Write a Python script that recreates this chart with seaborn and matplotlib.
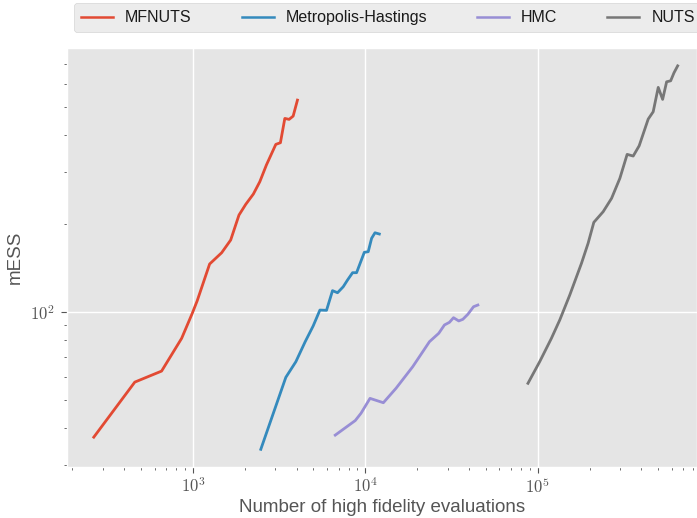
import numpy as np
import pandas as pd
import matplotlib
matplotlib.use("Agg")
import matplotlib.pyplot as plt
import matplotlib.ticker as mticker
import seaborn as sns

# ---- data ----
mfnuts_x = [266, 460, 658, 860, 991, 1059, 1250, 1468, 1656, 1850, 2025, 2242, 2443,
            2668, 3026, 3218, 3413, 3614, 3815, 4040]
mfnuts_y = [37.3, 57.5, 62.7, 81.1, 98.7, 109, 145.5, 159, 175.7, 213.8, 232.6, 252.2,
            277.8, 316.8, 372.7, 377.5, 457, 453.6, 465.5, 527.8]

mh_x = [2476, 3459, 3955, 4480, 4984, 5454, 5957, 6454, 6901, 7448, 7887, 8439, 8899,
        9868, 10400, 10880, 11380, 12060]
mh_y = [33.9, 59.7, 67.5, 79.0, 89.4, 101.3, 101.1, 118.0, 116.1, 121.7, 128.3, 135.9,
        135.9, 159.5, 160.3, 178.1, 186.0, 184.2]

hmc_x = [6692, 8745, 9441, 10650, 12730, 15085, 18840, 21540, 23560, 26680, 28780,
         30770, 32490, 34850, 36800, 39350, 42450, 44980]
hmc_y = [37.9, 42.5, 45.0, 50.6, 48.9, 54.8, 64.9, 73.0, 79.0, 84.4, 90.1, 92.0, 95.4,
         93.0, 94.2, 98.0, 104.0, 105.4]

nuts_x = [87830, 102700, 120100, 134300, 153500, 179500, 196100, 211700, 239800, 268300,
          299700, 330400, 358200, 388000, 437700, 467900, 500500, 530800, 559800, 590900,
          617700, 648900]
nuts_y = [56.96, 67.5, 81.1, 93.7, 114.0, 146.3, 171.2, 201.9, 219.5, 243.8, 285.3,
          344.5, 340.0, 368.6, 454.6, 481.6, 583.3, 530.8, 609.5, 614.3, 654.2, 690.9]

methods = ["MFNUTS", "Metropolis-Hastings", "HMC", "NUTS"]
colors = ["#E24A33", "#348ABD", "#988ED5", "#777777"]

frames = []
for name, xs, ys in zip(methods, [mfnuts_x, mh_x, hmc_x, nuts_x],
                        [mfnuts_y, mh_y, hmc_y, nuts_y]):
    frames.append(pd.DataFrame({"evals": xs, "mESS": ys, "method": name}))
df = pd.concat(frames, ignore_index=True)

# ---- style ----
plt.style.use("ggplot")
plt.rcParams["font.family"] = ["Liberation Sans", "DejaVu Sans"]
plt.rcParams["mathtext.fontset"] = "cm"

fig = plt.figure(figsize=(6.97, 5.18), dpi=100)
ax = fig.add_axes([67 / 697, 51 / 518, 630 / 697, 419 / 518])

sns.lineplot(data=df, x="evals", y="mESS", hue="method", hue_order=methods,
             palette=colors, ax=ax, linewidth=2.0, estimator=None, sort=False,
             legend=False)

ax.set_xscale("log")
ax.set_yscale("log")
ax.set_xlim(186, 8.4e5)
ax.set_ylim(29.5, 795)
ax.grid(True, which="major", color="white", linewidth=1.0)
ax.grid(False, which="minor")

sci = mticker.FuncFormatter(lambda v, p: r"$10^{%d}$" % int(round(np.log10(v))))
ax.xaxis.set_major_formatter(sci)
ax.yaxis.set_major_formatter(sci)
ax.xaxis.set_minor_formatter(mticker.NullFormatter())
ax.yaxis.set_minor_formatter(mticker.NullFormatter())

ax.set_xlabel("Number of high fidelity evaluations", fontsize=13.5, color="#555555",
              labelpad=2)
ax.set_ylabel("mESS", fontsize=13.5, color="#555555", labelpad=4)
ax.tick_params(axis="x", which="major", labelsize=12, length=4, colors="#555555",
               pad=3)
ax.tick_params(axis="y", which="major", labelsize=12, length=4, colors="#555555",
               pad=5)
ax.tick_params(axis="both", which="minor", length=2, colors="#555555")

handles = [plt.Line2D([], [], color=c, lw=1.8) for c in colors]
leg = fig.legend(handles, methods, loc="upper left", ncol=4, mode="expand",
                 bbox_to_anchor=(74 / 697, 1 - 3 / 518, 628 / 697, 0.0),
                 fontsize=11.5, frameon=True, facecolor="#E8E8E8",
                 edgecolor="#CCCCCC", handlelength=2.0, handletextpad=0.75,
                 borderpad=0.45, borderaxespad=0.0)
for t in leg.get_texts():
    t.set_color("#1a1a1a")

fig.savefig("out.png", dpi=100)
